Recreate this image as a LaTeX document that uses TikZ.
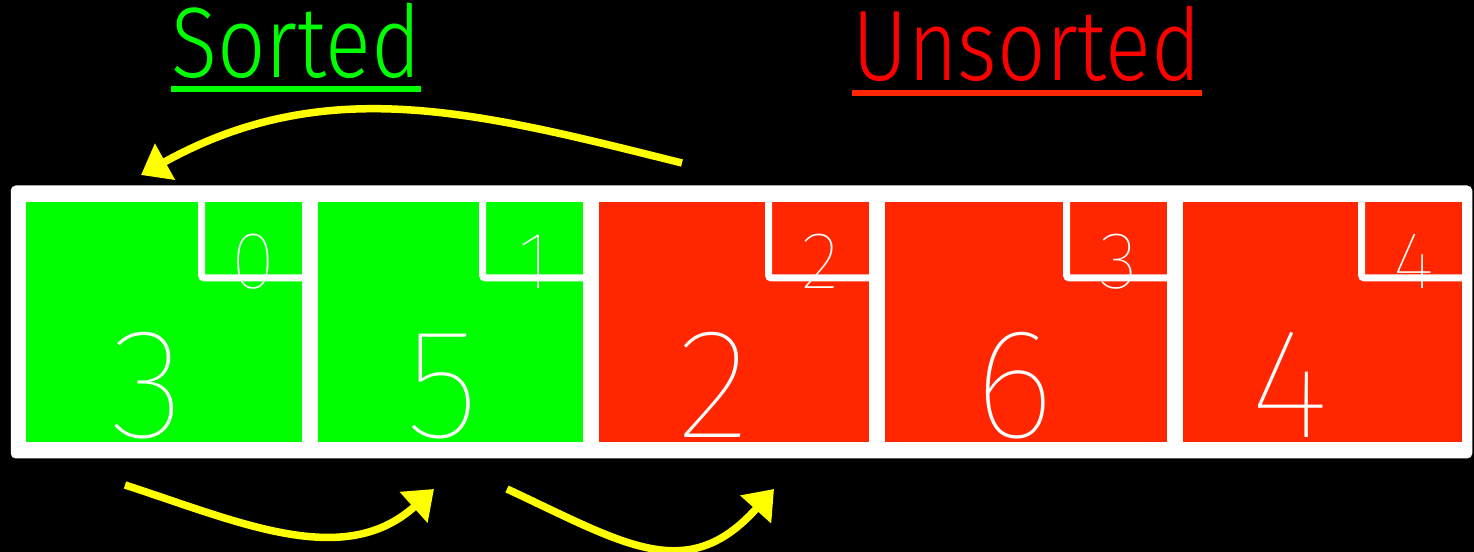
\documentclass[tikz,border=0pt]{standalone}
\usepackage{fontspec}
\setmainfont{Fira Sans}
\IfFontExistsTF{Fira Sans Light}{\newfontfamily\headfont{Fira Sans Light}[FakeStretch=0.85]}{%
  \IfFontExistsTF{Lato Light}{\newfontfamily\headfont{Lato Light}[FakeStretch=0.85]}{%
    \newfontfamily\headfont{Fira Sans}[FakeStretch=0.85]}}
\IfFontExistsTF{Fira Sans Thin}{\newfontfamily\numfont{Fira Sans Thin}}{%
  \IfFontExistsTF{Lato Hairline}{\newfontfamily\numfont{Lato Hairline}}{%
    \IfFontExistsTF{Lato Thin}{\newfontfamily\numfont{Lato Thin}}{%
      \newfontfamily\numfont{Fira Sans}}}}
\usetikzlibrary{arrows.meta,positioning}

\definecolor{sortgreen}{HTML}{00FF00}
\definecolor{cellred}{HTML}{FF2600}
\definecolor{headred}{HTML}{FF0000}
\definecolor{arrowyellow}{HTML}{FFFF00}

\tikzset{
  cell/.style={rectangle,fill=#1,inner sep=0,outer sep=0,minimum height=4.8cm},
  idxbox/.style={rectangle,draw=white,line width=0.14cm,rounded corners=0.06cm,inner sep=0,outer sep=0,minimum width=2.08cm,minimum height=1.59cm,anchor=north east},
  idxnum/.style={text=white,font=\numfont\fontsize{46}{46}\selectfont,inner sep=0,anchor=base},
  bignum/.style={text=white,font=\numfont\fontsize{89}{89}\selectfont,inner sep=0,anchor=base},
  heading/.style={text=#1,font=\headfont\fontsize{57}{57}\selectfont,inner sep=0,anchor=base},
  underbar/.style={draw=#1,line width=0.12cm},
  swaparrow/.style={draw=arrowyellow,line width=0.15cm,-{Triangle[length=0.55cm,width=0.8cm]}}
}

\begin{document}
\begin{tikzpicture}
\path[fill=black,use as bounding box] (0,0) rectangle (29.48,-11.04);

% array frame and cells
\node[rectangle,fill=white,rounded corners=0.1cm,minimum width=29.23cm,minimum height=5.46cm] (frame) at (14.83,-6.44) {};
\node[cell=sortgreen,minimum width=5.52cm] (c0) at (3.28,-6.44) {};
\node[cell=sortgreen,minimum width=5.30cm] (c1) at (9.01,-6.44) {};
\node[cell=cellred,minimum width=5.40cm] (c2) at (14.68,-6.44) {};
\node[cell=cellred,minimum width=5.64cm] (c3) at (20.52,-6.44) {};
\node[cell=cellred,minimum width=5.58cm] (c4) at (26.45,-6.44) {};

% index boxes
\node[idxbox] (i0) at ([shift={(0.07,0.07)}]c0.north east) {};
\node[idxbox] (i1) at ([shift={(0.07,0.07)}]c1.north east) {};
\node[idxbox] (i2) at ([shift={(0.07,0.07)}]c2.north east) {};
\node[idxbox] (i3) at ([shift={(0.07,0.07)}]c3.north east) {};
\node[idxbox] (i4) at ([shift={(0.07,0.07)}]c4.north east) {};
\node[idxnum] (n0) at ([yshift=-0.22cm]i0.south) {0};
\node[idxnum] (n1) at ([yshift=-0.22cm]i1.south) {1};
\node[idxnum] (n2) at ([yshift=-0.22cm]i2.south) {2};
\node[idxnum] (n3) at ([yshift=-0.22cm]i3.south) {3};
\node[idxnum] (n4) at ([yshift=-0.22cm]i4.south) {4};

% values
\node[bignum] (v0) at (2.96,-8.76) {3};
\node[bignum] (v1) at (8.86,-8.76) {5};
\node[bignum] (v2) at (14.28,-8.76) {2};
\node[bignum] (v3) at (20.30,-8.76) {6};
\node[bignum] (v4) at (25.80,-8.76) {4};

% headings
\node[heading=sortgreen] (sorted) at (5.92,-1.55) {Sorted};
\node[heading=headred] (unsorted) at (20.54,-1.62) {Unsorted};
\draw[underbar=sortgreen] ([yshift=-0.24cm]sorted.base west) -- ([yshift=-0.24cm]sorted.base east);
\draw[underbar=cellred] ([yshift=-0.24cm]unsorted.base west) -- ([yshift=-0.24cm]unsorted.base east);

% swap arrows
\coordinate (topstart) at (13.64,-3.26);
\coordinate (topend) at (2.82,-3.50);
\coordinate (lowastart) at (2.50,-9.70);
\coordinate (lowaend) at (8.68,-9.78);
\coordinate (lowbstart) at (10.14,-9.78);
\coordinate (lowbend) at (15.48,-9.78);
\draw[swaparrow] (topstart) to[out=166,in=29] (topend);
\draw[swaparrow] (lowastart) to[out=-18,in=222] (lowaend);
\draw[swaparrow] (lowbstart) to[out=-25,in=228,looseness=1.25] (lowbend);

\end{tikzpicture}
\end{document}
